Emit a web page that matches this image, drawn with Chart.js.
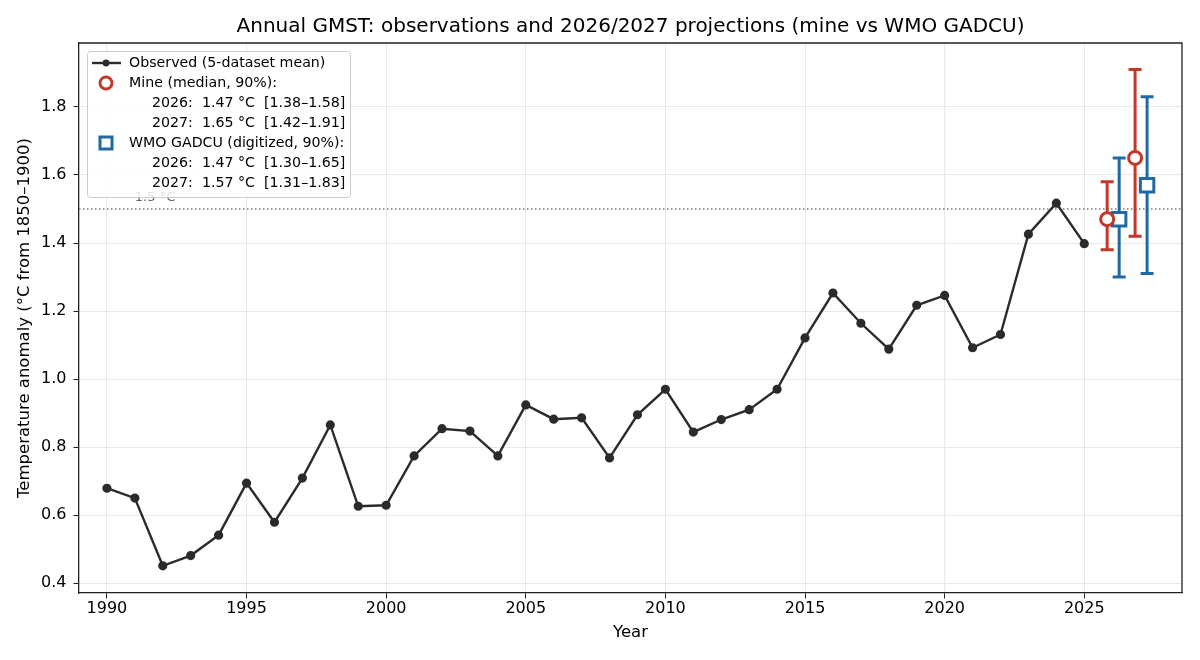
<!DOCTYPE html>
<html lang="en">
<head>
   <meta charset="UTF-8">
   <title>Annual GMST: observations and projections</title>
   <script src="https://cdn.jsdelivr.net/npm/chart.js@4.4.1/dist/chart.umd.min.js"></script>
   <style>
      body { margin: 0; background: #fff; }
      #wrap { width: 1200px; height: 660px; position: relative; }
   </style>
</head>
<body>
   <div id="wrap"><canvas id="gmstChart"></canvas></div>
   <script>
      // observed annual GMST anomaly (5-dataset mean)
      const years = [1990, 1991, 1992, 1993, 1994, 1995, 1996, 1997, 1998, 1999,
         2000, 2001, 2002, 2003, 2004, 2005, 2006, 2007, 2008, 2009,
         2010, 2011, 2012, 2013, 2014, 2015, 2016, 2017, 2018, 2019,
         2020, 2021, 2022, 2023, 2024, 2025];
      const observed = [0.679, 0.650, 0.451, 0.481, 0.541, 0.694, 0.579, 0.709, 0.865, 0.626,
         0.629, 0.774, 0.854, 0.847, 0.774, 0.924, 0.882, 0.886, 0.768, 0.895,
         0.970, 0.844, 0.881, 0.910, 0.970, 1.121, 1.253, 1.164, 1.088, 1.217,
         1.246, 1.092, 1.131, 1.426, 1.517, 1.398];

      // projections
      const projYears = [2026, 2027];
      const mineMedian = [1.47, 1.65];
      const mineLow = [1.38, 1.42];
      const mineHigh = [1.58, 1.91];
      const wmoMedian = [1.47, 1.57];
      const wmoLow = [1.30, 1.31];
      const wmoHigh = [1.65, 1.83];

      const xTicks = [1990, 1995, 2000, 2005, 2010, 2015, 2020, 2025];
      const yTicks = [0.4, 0.6, 0.8, 1.0, 1.2, 1.4, 1.6, 1.8];
      const threshold = 1.5;

      const RED = '#c0392b';
      const BLUE = '#1f6aa5';
      const OBS = '#2b2b2b';
      const MINE_SHIFT = -0.18;
      const WMO_SHIFT = 0.25;
      const FONT = '"DejaVu Sans", sans-serif';

      Chart.defaults.font.family = FONT;
      Chart.defaults.color = '#000';

      function rangeText(yr, med, lo, hi) {
         return yr + ':  ' + med.toFixed(2) + ' °C  [' + lo.toFixed(2) + '–' + hi.toFixed(2) + ']';
      }

      function drawErrorBars(ctx, xs, ys, lo, hi, shift, color) {
         ctx.strokeStyle = color;
         ctx.lineWidth = 3;
         projYears.forEach((yr, i) => {
            const px = xs.getPixelForValue(yr + shift);
            const p1 = ys.getPixelForValue(lo[i]);
            const p2 = ys.getPixelForValue(hi[i]);
            ctx.beginPath();
            ctx.moveTo(px, p1); ctx.lineTo(px, p2);
            ctx.moveTo(px - 6.5, p1); ctx.lineTo(px + 6.5, p1);
            ctx.moveTo(px - 6.5, p2); ctx.lineTo(px + 6.5, p2);
            ctx.stroke();
         });
      }

      function drawLegend(chart) {
         const ctx = chart.ctx;
         const a = chart.chartArea;
         const bx = a.left + 8, by = a.top + 8, bw = 263, bh = 146;
         ctx.save();
         ctx.fillStyle = 'rgba(255,255,255,0.8)';
         ctx.strokeStyle = '#cccccc';
         ctx.lineWidth = 1;
         ctx.beginPath();
         ctx.roundRect(bx + 0.5, by + 0.5, bw, bh, 3);
         ctx.fill();
         ctx.stroke();

         const rows = [
            { text: 'Observed (5-dataset mean)', handle: 'line' },
            { text: 'Mine (median, 90%):', handle: 'circle' },
            { text: rangeText(projYears[0], mineMedian[0], mineLow[0], mineHigh[0]), indent: true },
            { text: rangeText(projYears[1], mineMedian[1], mineLow[1], mineHigh[1]), indent: true },
            { text: 'WMO GADCU (digitized, 90%):', handle: 'square' },
            { text: rangeText(projYears[0], wmoMedian[0], wmoLow[0], wmoHigh[0]), indent: true },
            { text: rangeText(projYears[1], wmoMedian[1], wmoLow[1], wmoHigh[1]), indent: true }
         ];
         ctx.font = '14.2px ' + FONT;
         ctx.textBaseline = 'middle';
         rows.forEach((r, i) => {
            const cy = by + 12 + 20 * i;
            const hx = bx + 19;
            if (r.handle === 'line') {
               ctx.strokeStyle = OBS; ctx.lineWidth = 2.4;
               ctx.beginPath(); ctx.moveTo(bx + 5, cy); ctx.lineTo(bx + 34, cy); ctx.stroke();
               ctx.fillStyle = OBS;
               ctx.beginPath(); ctx.arc(hx, cy, 3.4, 0, Math.PI * 2); ctx.fill();
            } else if (r.handle === 'circle') {
               ctx.strokeStyle = RED; ctx.lineWidth = 3; ctx.fillStyle = '#fff';
               ctx.beginPath(); ctx.arc(hx, cy, 6, 0, Math.PI * 2); ctx.fill(); ctx.stroke();
            } else if (r.handle === 'square') {
               ctx.strokeStyle = BLUE; ctx.lineWidth = 3; ctx.fillStyle = '#fff';
               ctx.fillRect(hx - 6, cy - 6, 12, 12); ctx.strokeRect(hx - 6, cy - 6, 12, 12);
            }
            ctx.fillStyle = '#000';
            ctx.fillText(r.text, r.indent ? bx + 65 : bx + 42, cy);
         });
         ctx.restore();
      }

      const extras = {
         id: 'extras',
         afterLayout(chart) {
            // centre the title over the plot area, like the axes title
            const t = chart.titleBlock;
            if (t) {
               t.left = chart.chartArea.left;
               t.right = chart.chartArea.right;
               t.width = t.right - t.left;
            }
         },
         beforeDraw(chart) {
            const ctx = chart.ctx;
            ctx.save();
            ctx.fillStyle = '#fff';
            ctx.fillRect(0, 0, chart.width, chart.height);
            ctx.restore();
         },
         beforeDatasetsDraw(chart) {
            const { ctx, chartArea: a, scales: { x, y } } = chart;
            ctx.save();
            const ty = y.getPixelForValue(threshold);
            ctx.strokeStyle = '#7a7a7a';
            ctx.lineWidth = 1.3;
            ctx.setLineDash([1.5, 2.5]);
            ctx.beginPath(); ctx.moveTo(a.left, ty); ctx.lineTo(a.right, ty); ctx.stroke();
            ctx.setLineDash([]);
            ctx.fillStyle = '#666';
            ctx.font = '13px ' + FONT;
            ctx.textBaseline = 'bottom';
            ctx.fillText('1.5 °C', x.getPixelForValue(1991), ty - 5);
            drawErrorBars(ctx, x, y, mineLow, mineHigh, MINE_SHIFT, RED);
            drawErrorBars(ctx, x, y, wmoLow, wmoHigh, WMO_SHIFT, BLUE);
            ctx.restore();
         },
         afterDraw(chart) {
            const { ctx, chartArea: a } = chart;
            ctx.save();
            ctx.strokeStyle = '#222';
            ctx.lineWidth = 1.3;
            ctx.beginPath();
            ctx.moveTo(a.left, a.top); ctx.lineTo(a.right, a.top); ctx.lineTo(a.right, a.bottom);
            ctx.stroke();
            ctx.restore();
            drawLegend(chart);
         }
      };

      const config = {
         type: 'line',
         data: {
            datasets: [
               {
                  label: 'Observed (5-dataset mean)',
                  data: years.map((yr, i) => ({ x: yr, y: observed[i] })),
                  borderColor: OBS,
                  backgroundColor: OBS,
                  borderWidth: 2.4,
                  pointRadius: 3.4,
                  tension: 0
               },
               {
                  label: 'Mine (median, 90%)',
                  type: 'scatter',
                  data: projYears.map((yr, i) => ({ x: yr + MINE_SHIFT, y: mineMedian[i] })),
                  pointStyle: 'circle',
                  pointRadius: 6.5,
                  borderWidth: 3,
                  borderColor: RED,
                  backgroundColor: '#fff'
               },
               {
                  label: 'WMO GADCU (digitized, 90%)',
                  type: 'scatter',
                  data: projYears.map((yr, i) => ({ x: yr + WMO_SHIFT, y: wmoMedian[i] })),
                  pointStyle: 'rect',
                  pointRadius: 9.5,
                  borderWidth: 3,
                  borderColor: BLUE,
                  backgroundColor: '#fff'
               }
            ]
         },
         options: {
            responsive: true,
            maintainAspectRatio: false,
            animation: false,
            layout: { padding: { left: 0, right: 18, top: 0, bottom: 0 } },
            plugins: {
               legend: { display: false },
               tooltip: { enabled: false },
               title: {
                  display: true,
                  text: 'Annual GMST: observations and 2026/2027 projections (mine vs WMO GADCU)',
                  color: '#000',
                  font: { size: 20, weight: 'normal' },
                  padding: { top: 15, bottom: 4 }
               }
            },
            scales: {
               x: {
                  type: 'linear',
                  min: 1989,
                  max: 2028.5,
                  afterBuildTicks: s => { s.ticks = xTicks.map(v => ({ value: v })); },
                  afterFit: s => { s.height = 67; },
                  ticks: { callback: v => String(v), color: '#000', font: { size: 16 }, padding: 1, maxRotation: 0, autoSkip: false },
                  grid: { color: '#e8e8e8', tickColor: '#222', tickLength: 5.5 },
                  border: { color: '#222', width: 1.3 },
                  title: { display: true, text: 'Year', color: '#000', font: { size: 16.5 }, padding: { top: 4, bottom: 17 } }
               },
               y: {
                  type: 'linear',
                  min: 0.371,
                  max: 1.988,
                  afterBuildTicks: s => { s.ticks = yTicks.map(v => ({ value: v })); },
                  afterFit: s => { s.width = 79; },
                  ticks: { callback: v => v.toFixed(1), color: '#000', font: { size: 16 }, padding: 7, autoSkip: false },
                  grid: { color: '#e8e8e8', tickColor: '#222', tickLength: 5.5 },
                  border: { color: '#222', width: 1.3 },
                  title: { display: true, text: 'Temperature anomaly (°C from 1850–1900)', color: '#000', font: { size: 16.5 }, padding: { top: 15, bottom: 4 } }
               }
            }
         },
         plugins: [extras]
      };

      new Chart(document.getElementById('gmstChart').getContext('2d'), config);
   </script>
</body>
</html>
